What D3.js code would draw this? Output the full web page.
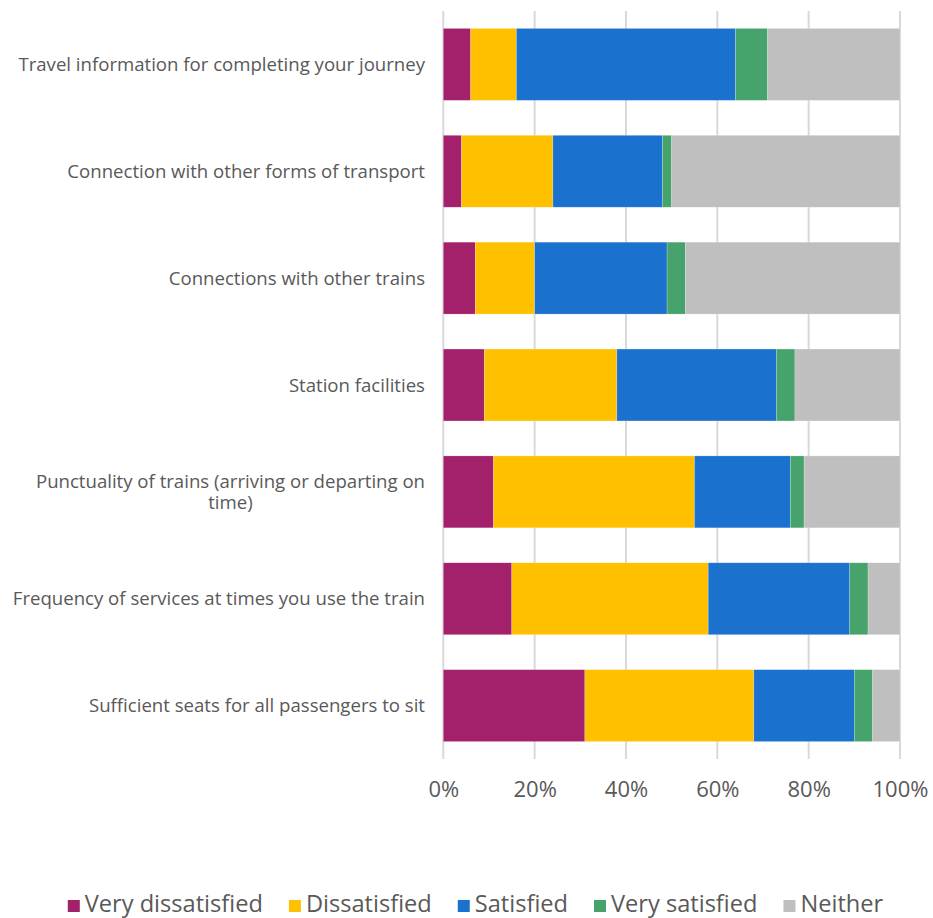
<!DOCTYPE html>
<html>
<head>
<meta charset="utf-8">
<script src="https://cdn.jsdelivr.net/npm/d3@7"></script>
<style>
  html, body { margin: 0; padding: 0; background: #ffffff; }
  svg { display: block; font-family: "Open Sans", Lato, sans-serif; }
</style>
</head>
<body>
<svg id="chart" width="933" height="918"></svg>
<script>
const categories = [
  "Travel information for completing your journey",
  "Connection with other forms of transport",
  "Connections with other trains",
  "Station facilities",
  "Punctuality of trains (arriving or departing on time)",
  "Frequency of services at times you use the train",
  "Sufficient seats for all passengers to sit"
];
const seriesNames = ["Very dissatisfied", "Dissatisfied", "Satisfied", "Very satisfied", "Neither"];
const veryDissatisfied = [6, 4, 7, 9, 11, 15, 31];
const dissatisfied     = [10, 20, 13, 29, 44, 43, 37];
const satisfied        = [48, 24, 29, 35, 21, 31, 22];
const verySatisfied    = [7, 2, 4, 4, 3, 4, 4];
const neither          = [29, 50, 47, 23, 21, 7, 6];
const tickValues = [0, 20, 40, 60, 80, 100];
const tickLabels = ["0%", "20%", "40%", "60%", "80%", "100%"];
const colors = ["#A3206B", "#FFC000", "#1B72CE", "#45A36B", "#BFBFBF"];

const seriesValues = [veryDissatisfied, dissatisfied, satisfied, verySatisfied, neither];
const rows = categories.map((c, i) => {
  const r = { category: c };
  seriesNames.forEach((s, k) => { r[s] = seriesValues[k][i]; });
  return r;
});

const FONT = '"Open Sans", Lato, sans-serif';
const svg = d3.select("#chart");
const plot = { left: 443.3, right: 900, top: 11, bottom: 759 };

const x = d3.scaleLinear().domain([0, 100]).range([plot.left, plot.right]);
const y = d3.scaleBand().domain(categories).range([plot.top, plot.bottom])
  .paddingInner(0.327).paddingOuter(0.163);

// gridlines
svg.append("g").selectAll("line").data(tickValues).join("line")
  .attr("x1", d => x(d)).attr("x2", d => x(d))
  .attr("y1", plot.top).attr("y2", plot.bottom)
  .attr("stroke", "#d9d9d9").attr("stroke-width", 2);

// bars
const stacked = d3.stack().keys(seriesNames)(rows);
svg.append("g").selectAll("g").data(stacked).join("g")
  .attr("fill", (d, i) => colors[i])
  .selectAll("rect").data(d => d).join("rect")
  .attr("x", d => x(d[0]))
  .attr("width", d => x(d[1]) - x(d[0]))
  .attr("y", d => y(d.data.category))
  .attr("height", y.bandwidth())
  .attr("stroke", "#ffffff").attr("stroke-opacity", 0.35).attr("stroke-width", 0.6);

// x-axis tick labels
const xAxis = d3.axisBottom(x).tickValues(tickValues)
  .tickFormat((d, i) => tickLabels[i]).tickSize(0).tickPadding(0);
const gx = svg.append("g").attr("transform", `translate(0, ${plot.bottom + 22})`).call(xAxis);
gx.select(".domain").remove();
gx.selectAll("text").attr("font-size", 22).attr("fill", "#595959")
  .attr("font-family", FONT).attr("dy", "0.71em");

// category labels with wrapping
const labelRight = 425, labelMax = 420, lineH = 21, labFont = 18.6;
const labelG = svg.append("g");
const measure = (txt, size) => {
  const p = svg.append("text").attr("font-size", size).attr("font-family", FONT).text(txt);
  const w = p.node().getComputedTextLength(); p.remove(); return w;
};
categories.forEach(cat => {
  const t = labelG.append("text").attr("font-size", labFont).attr("fill", "#595959");
  const words = cat.split(" ");
  let lines = [], cur = [];
  words.forEach(w => {
    const test = cur.concat([w]).join(" ");
    if (measure(test, labFont) > labelMax && cur.length) {
      lines.push(cur.join(" ")); cur = [w];
    } else cur.push(w);
  });
  lines.push(cur.join(" "));
  const blockW = d3.max(lines, l => measure(l, labFont));
  const cy = y(cat) + y.bandwidth() / 2;
  const cx = labelRight - blockW / 2;
  lines.forEach((l, i) => {
    t.append("tspan").attr("x", cx).attr("text-anchor", "middle")
      .attr("y", cy + (i - (lines.length - 1) / 2) * lineH).attr("dy", "0.35em").text(l);
  });
});

// legend
const legendBase = 912, sq = 12, gapTxt = 5, gapItem = 26, legFont = 23.6;
const legend = svg.append("g");
const widths = seriesNames.map(n => measure(n, legFont));
const total = d3.sum(widths) + seriesNames.length * (sq + gapTxt) + (seriesNames.length - 1) * gapItem;
let lx = 475.5 - total / 2;
seriesNames.forEach((n, i) => {
  legend.append("rect").attr("x", lx).attr("y", legendBase - 12).attr("width", sq).attr("height", sq).attr("fill", colors[i]);
  legend.append("text").attr("x", lx + sq + gapTxt).attr("y", legendBase)
    .attr("font-size", legFont).attr("fill", "#595959").text(n);
  lx += sq + gapTxt + widths[i] + gapItem;
});
</script>
</body>
</html>
